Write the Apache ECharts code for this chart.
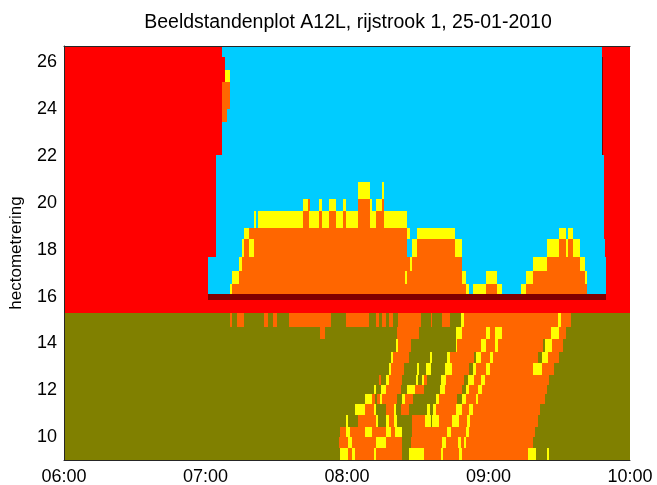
<!DOCTYPE html>
<html>
<head>
<meta charset="utf-8">
<script src="https://cdn.jsdelivr.net/npm/echarts@6/dist/echarts.min.js"></script>
<style>
  html, body { margin: 0; padding: 0; background: #fff; }
  #chart { width: 657px; height: 485px; }
</style>
</head>
<body>
<div id="chart"></div>
<script>
  // x = minuten na 06:00, y = hectometrering
  const titleText = 'Beeldstandenplot A12L, rijstrook 1, 25-01-2010';
  const xTickLabels = ['06:00', '07:00', '08:00', '09:00', '10:00'];
  const yTickValues = [10, 12, 14, 16, 18, 20, 22, 24, 26];

  // grenzen van de rijen (hm), van onder naar boven
  const rowEdges = [9.02, 9.55, 9.99, 10.44, 10.94, 11.41, 11.84, 12.22, 12.65, 13.15, 13.64,
    14.17, 14.68, 15.28, 15.85, 16.10, 16.52, 17.08, 17.69, 18.44, 18.93, 19.66, 20.16,
    20.89, 22.03, 23.45, 24.02, 25.16, 25.66, 26.23, 26.70];

  // per rij: beeldstand + eindminuut (begint bij 0)
  // R = kruis (rood), C = leeg, Y = 70, O = 50, G = geen, D = einde
  const rowRuns = [
    'G117.2 Y120.5 O122.3 Y123.2 O131.4 Y132.4 O143.5 G146.3 Y152.6 O159.7 Y160.7 O167.5 Y168.6 O196.6 Y200.1 G204.6 Y205.7 G240',
    'G116.4 O120.5 Y122.2 O132.4 Y136.4 O143.5 G147 O160.4 Y161.9 O167.2 Y168.2 O169.6 Y170.6 O198.9 G240',
    'G117.2 O119.4 Y121.1 O127.6 Y130.7 O136.4 Y138.5 O140.3 Y143.5 G147.7 O162.6 Y164 O170.6 Y171.7 O199.7 G240',
    'G119.4 Y120.5 G124.5 O132.1 Y133 G136.4 Y137.6 O139.8 Y141.3 G147.7 O153.1 Y155.5 G156.2 Y158.8 O164.7 Y167.4 O170.8 Y172 O200.8 G240',
    'G123.3 Y127.6 O131.3 Y132.1 G136.4 O139.8 Y140.6 G142.7 O146.1 G153.8 Y155.1 G156.3 Y157.6 O166.1 Y168.6 O171.7 Y173.4 O201.8 G240',
    'G127.6 Y130.7 O131.7 G132.8 O133.8 Y134.7 O141.3 G143.5 Y144.4 O147.8 G157.6 Y159 O166.8 G168.6 Y170.3 O174.6 Y175.7 O204 G240',
    'G131.4 Y132.4 G134.5 Y136.4 O142.7 G145.6 Y148.7 O152.5 G159.3 Y161.4 O168.6 G170.3 Y171.7 O175.7 Y177.4 O204.6 G240',
    'G133.5 O134.5 G136.4 Y137.8 O143.5 G149.1 Y150.1 G151.7 Y152.6 O153.8 G159.7 Y161.9 O169.6 G171.5 Y173.9 O176.7 Y178.5 O205.7 G240',
    'G137.8 Y138.8 O144.1 G149.5 Y150.5 G153.7 Y155.8 G161.6 Y164.4 O171.7 G173.4 Y174.9 O178.8 Y180.7 O198.7 Y202.6 O207.9 G240',
    'G138.5 Y139.6 O146.3 G155.2 Y156.2 G162.6 Y163.6 O173.9 G174.9 Y176.7 O180.7 Y181.7 O200.8 G202.6 Y205.1 O210 G240',
    'G140.6 Y141.6 O147 G166.1 Y166.8 O176.7 Y178.8 O182.7 Y183.9 O202.9 G204 Y206.9 O211.7 G240',
    'G108.5 O110.5 G141.3 O150.5 G166.1 Y168.6 O178.8 Y180.7 O182.8 Y185.9 O206.5 Y210 O212.8 G240',
    'G70.2 O71.4 G73.4 O76.3 G84.7 O86.5 G88.5 O90.5 G95.3 O113.4 G119.5 O129.4 G132.5 O133.7 G134.7 O136.7 G137.8 O139.6 G141.6 O151.5 G155.5 O156.2 G160.4 O163.7 G168.2 Y169.6 O209.3 Y210.7 O215 G240',
    'R240',
    'R60.9 D229.8 R240',
    'R61 C70.2 Y71.2 O170.6 Y171.6 C173.6 Y178.8 O183.8 Y185.8 C193.7 Y195.8 O221.9 C229.8 R240',
    'R61 C71.2 Y74.3 O144.6 Y145.6 O168.7 Y170.6 C178.8 Y183.8 C195.8 Y198.9 O220.9 Y221.9 C229.8 R240',
    'R61 C74.3 Y75.3 O146.6 Y147.5 O168.7 C198.9 Y204.8 O218.8 Y220.9 C229.8 R240',
    'R64.4 C75.3 Y76.3 O78.3 Y80.4 O145.6 C147.5 Y149.5 O165.7 Y168.7 C204.8 Y210 O212.8 Y213.8 O215.8 Y218.8 C229.5 R240',
    'R64.4 C76.3 Y78.3 O145.6 Y146.6 C149.5 Y165.7 C210 Y212.8 C213.8 Y215.8 C228.8 R240',
    'R64.4 C80.4 Y81.3 C82.3 Y101.2 O103.8 Y108.3 O109.5 Y112.4 O115.5 Y118.5 O119.5 Y124.5 O129.6 Y132.5 O135.6 Y145.6 C228.8 R240',
    'R64.4 C101.2 Y103.4 O104.2 C108.3 Y109.2 C112.4 Y115.5 C118.5 Y119.5 C124.5 O129.6 Y130.5 C132.5 Y134.7 O135.6 C228.8 R240',
    'R64.4 C124.5 Y129.6 C134.7 Y135.6 C228.8 R240',
    'R64.4 C228.8 R240',
    'R67.2 C228 D228.6 R240',
    'R67.2 O69.1 C228 D228.6 R240',
    'R67.2 O70.2 C228 D228.6 R240',
    'R68.1 Y70.2 C228 D228.6 R240',
    'R68.1 C228 D228.6 R240',
    'R67.2 C228 R240'
  ];

  const stateColors = {
    R: '#ff0000', C: '#00ccff', Y: '#ffff00',
    O: '#ff6600', G: '#808000', D: '#800000'
  };

  // cellen opbouwen: [start, eind, hm onder, hm boven, stand]
  const cells = [];
  rowRuns.forEach(function (run, i) {
    let start = 0;
    run.split(' ').forEach(function (tok) {
      const end = parseFloat(tok.slice(1));
      cells.push([start, end, rowEdges[i], rowEdges[i + 1], tok[0]]);
      start = end;
    });
  });

  const font = 'Liberation Sans';
  let myChart = echarts.init(document.getElementById('chart'));
  myChart.setOption({
    animation: false,
    grid: { left: 64, right: 27, top: 46, bottom: 25, outerBoundsMode: 'none', containLabel: false },
    graphic: [{
      type: 'text',
      x: 348,
      y: 23,
      style: {
        text: titleText,
        fill: '#000',
        font: '19.5px "Liberation Sans"',
        align: 'center',
        verticalAlign: 'middle'
      }
    }],
    xAxis: [{
      type: 'value',
      min: 0,
      max: 240,
      interval: 60,
      z: 10,
      axisLine: { show: true, lineStyle: { color: '#262626', width: 1 } },
      axisTick: { show: false },
      splitLine: { show: false },
      axisLabel: {
        color: '#000', fontSize: 18, fontFamily: font, margin: 8,
        formatter: function (v) { return xTickLabels[Math.round(v / 60)]; }
      }
    }, {
      type: 'value',
      position: 'top',
      min: 0,
      max: 240,
      z: 10,
      axisLine: { show: true, lineStyle: { color: '#262626', width: 1 } },
      axisTick: { show: false },
      splitLine: { show: false },
      axisLabel: { show: false }
    }],
    yAxis: {
      type: 'value',
      min: 9.02,
      max: 26.70,
      z: 10,
      name: 'hectometrering',
      nameLocation: 'middle',
      nameRotate: 90,
      nameGap: 39,
      nameTextStyle: { color: '#000', fontSize: 17, fontFamily: font },
      axisLine: { show: true, lineStyle: { color: '#262626', width: 1 } },
      axisTick: { show: false, customValues: yTickValues },
      splitLine: { show: false },
      axisLabel: {
        color: '#000', fontSize: 18, fontFamily: font, margin: 7,
        customValues: yTickValues
      }
    },
    series: [{
      type: 'custom',
      z: 1,
      encode: { x: [0, 1], y: [2, 3] },
      data: cells,
      renderItem: function (params, api) {
        const cell = cells[params.dataIndex];
        const p0 = api.coord([cell[0], cell[3]]);
        const p1 = api.coord([cell[1], cell[2]]);
        const x0 = Math.round(p0[0]), x1 = Math.round(p1[0]);
        const y0 = Math.round(p0[1]), y1 = Math.round(p1[1]);
        return {
          type: 'rect',
          shape: { x: x0, y: y0, width: Math.max(x1 - x0, 1), height: y1 - y0 },
          style: { fill: stateColors[cell[4]] }
        };
      }
    }]
  });
</script>
</body>
</html>
